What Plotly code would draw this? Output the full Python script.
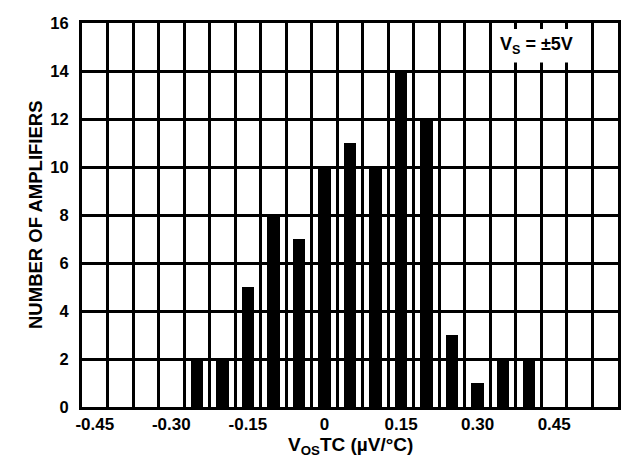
import plotly.graph_objects as go

# Data
bin_centers = [-0.25, -0.20, -0.15, -0.10, -0.05, 0.0, 0.05, 0.10, 0.15, 0.20, 0.25, 0.30, 0.35, 0.40]
counts = [2, 2, 5, 8, 7, 10, 11, 10, 14, 12, 3, 1, 2, 2]
x_tickvals = [-0.45, -0.30, -0.15, 0.0, 0.15, 0.30, 0.45]
x_ticktext = ["-0.45", "-0.30", "-0.15", "0", "0.15", "0.30", "0.45"]
y_tickvals = [0, 2, 4, 6, 8, 10, 12, 14, 16]

FONT = "Liberation Sans, Arial, Helvetica, sans-serif"

fig = go.Figure()
fig.add_trace(go.Bar(
    x=bin_centers, y=counts, width=0.024,
    marker=dict(color="black", line=dict(width=0)),
    showlegend=False,
))

fig.update_layout(
    width=626, height=457,
    margin=dict(l=82, r=5, t=23, b=50),
    paper_bgcolor="white", plot_bgcolor="white",
    font=dict(family=FONT, color="black"),
    bargap=0,
)

fig.update_xaxes(
    range=[-0.475, 0.575],
    tickmode="array", tickvals=x_tickvals, ticktext=x_ticktext,
    tickfont=dict(family=FONT, size=17, color="black", weight="bold"),
    showgrid=False, zeroline=False,
    showline=True, mirror=True, linecolor="black", linewidth=3,
    ticks="",
    minor=dict(tickmode="linear", tick0=-0.475, dtick=0.05, showgrid=True,
               gridcolor="black", gridwidth=2.5, ticks=""),
)
fig.update_yaxes(
    range=[0, 16],
    tickmode="array", tickvals=y_tickvals,
    tickfont=dict(family=FONT, size=16.5, color="black", weight="bold"),
    showgrid=True, gridcolor="black", gridwidth=2.5, zeroline=False,
    showline=True, mirror=True, linecolor="black", linewidth=3,
    ticks="", ticklabelstandoff=7,
)

# white box behind the supply annotation
fig.add_shape(type="rect", xref="x", yref="y",
              x0=0.3345, x1=0.506, y0=14.35, y1=15.75,
              fillcolor="white", line=dict(width=0), layer="above")
fig.add_annotation(
    xref="x", yref="y", x=0.416, y=15.05,
    text="V<sub>S</sub> = ±5V", showarrow=False,
    font=dict(family=FONT, size=18, color="black", weight="bold"),
    xanchor="center", yanchor="middle",
)

# axis titles
fig.add_annotation(
    xref="paper", yref="paper", x=0.5, y=0, yshift=-25, yanchor="top",
    text="V<sub>OS</sub>TC (µV/°C)", showarrow=False,
    font=dict(family=FONT, size=19, color="black", weight="bold"),
)
fig.add_annotation(
    xref="paper", yref="paper", x=0, y=0.5, xshift=-47, xanchor="center",
    text="NUMBER OF AMPLIFIERS", textangle=-90, showarrow=False,
    font=dict(family=FONT, size=18.5, color="black", weight="bold"),
)

fig.write_html(
    "out.html",
    config={"displayModeBar": False},
    post_script="document.body.style.margin='0';document.body.style.overflow='hidden';",
)
